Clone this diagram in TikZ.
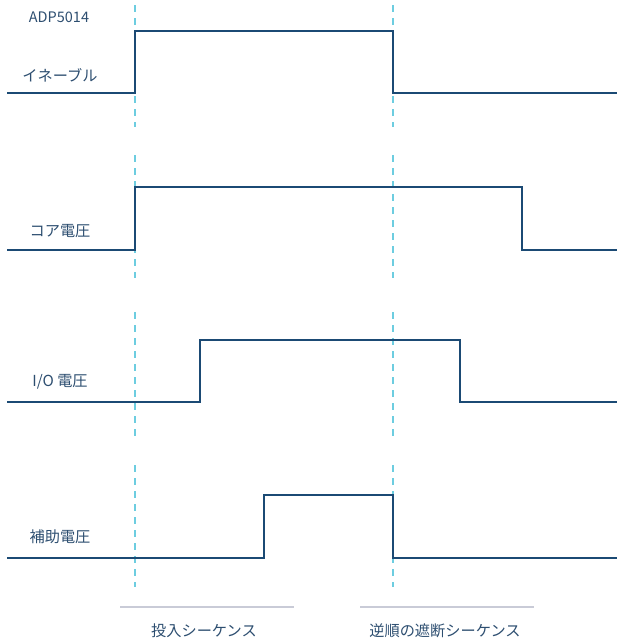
\documentclass[tikz,border=0pt]{standalone}
\usepackage{fontspec}
\setmainfont{Noto Sans CJK JP}
\definecolor{wave}{HTML}{1B4A74}
\definecolor{guide}{HTML}{6DCDE0}
\definecolor{bar}{HTML}{C9CBD7}
\definecolor{txt}{HTML}{2D4E70}
\begin{document}
\begin{tikzpicture}[x=1pt,y=-1pt,
  wavestyle/.style={draw=wave,line width=2.8pt,line join=miter},
  guidestyle/.style={draw=guide,line width=2.3pt,dash pattern=on 7pt off 6pt},
  barstyle/.style={draw=bar,line width=2.2pt},
  lbl/.style={text=txt,inner sep=0pt,font=\fontsize{15.2}{17}\selectfont},
  small/.style={text=txt,inner sep=0pt,font=\fontsize{14.5}{16}\selectfont}]
\useasboundingbox (0,0) rectangle (617,640);
% guide lines
\foreach \gx in {135,393}{
  \draw[guidestyle] (\gx,5) -- (\gx,127);
  \draw[guidestyle] (\gx,155) -- (\gx,278);
  \draw[guidestyle] (\gx,312) -- (\gx,437);
  \draw[guidestyle] (\gx,465) -- (\gx,587);
}
% waveforms
\draw[wavestyle] (7,93) -- (135,93) -- (135,31) -- (393,31) -- (393,93) -- (617,93);
\draw[wavestyle] (7,250) -- (135,250) -- (135,187) -- (522,187) -- (522,250) -- (617,250);
\draw[wavestyle] (7,402) -- (200,402) -- (200,340) -- (460,340) -- (460,402) -- (617,402);
\draw[wavestyle] (7,558) -- (264,558) -- (264,495) -- (393,495) -- (393,558) -- (617,558);
% labels
\node[small] (chip) at (59,17) {ADP5014};
\node[lbl] (en) at (60,75) {イネーブル};
\node[lbl] (core) at (60,231) {コア電圧};
\node[lbl] (io) at (60,382) {I/O 電圧};
\node[lbl] (aux) at (60,537) {補助電圧};
% sequence bars
\coordinate (b1s) at (120,607); \coordinate (b1e) at (294,607);
\coordinate (b2s) at (360,607); \coordinate (b2e) at (534,607);
\draw[barstyle] (b1s) -- (b1e);
\draw[barstyle] (b2s) -- (b2e);
\node[lbl] (on) at (204,631) {投入シーケンス};
\node[lbl] (off) at (445,631) {逆順の遮断シーケンス};
\end{tikzpicture}
\end{document}
